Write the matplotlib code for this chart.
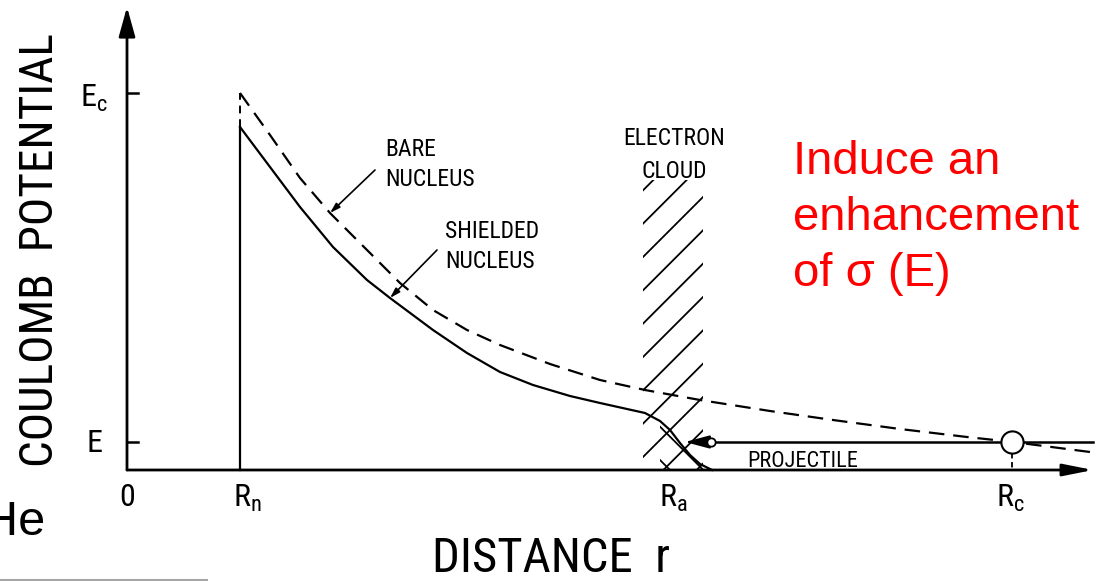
import matplotlib
matplotlib.use("Agg")
import matplotlib.pyplot as plt
from matplotlib import font_manager as fm
from matplotlib.patches import Rectangle

# schematic values (units ~ pixels of the original drawing, origin at the axes corner)
R_n = 113
R_a = 545
R_c = 885
E_c = 377
E = 28
cloud_left, cloud_right, cloud_top = 516, 576, 290

# bare nucleus (dashed) potential
r_bare = [113, 143, 173, 203, 240, 273, 306, 340, 373, 423, 473, 518, 573, 643, 706, 773, 840, 886, 963]
v_bare = [377, 335, 292, 257, 220, 187, 160, 140, 125, 106, 90, 80, 70, 59, 50, 41, 33, 28, 18]

# shielded nucleus (solid) potential
r_shield = [113, 143, 173, 206, 240, 263, 306, 340, 373, 406, 443, 473, 518, 533, 543, 553, 563, 573, 585]
v_shield = [343, 303, 263, 223, 190, 172, 140, 117, 98, 85, 74, 67, 57, 49, 40, 27, 15, 6, 0]


def pick_narrow_font():
    # technical lettering of the drawing is narrow, use whatever condensed face exists
    entries = fm.fontManager.ttflist
    for name, stretch in [('Liberation Sans Narrow', None), ('Roboto Condensed', None),
                          ('Open Sans Condensed', None), ('DejaVu Sans', 'condensed'),
                          ('Noto Sans', 'condensed'), ('Open Sans', 'condensed')]:
        for f in entries:
            if f.name == name and (stretch is None or f.stretch == stretch):
                return dict(family=name, stretch=stretch or 'normal')
    return dict(family='Liberation Sans', stretch='normal')


tech = pick_narrow_font()
plt.rcParams['font.family'] = [tech['family'], 'DejaVu Sans']
plt.rcParams['font.stretch'] = tech['stretch']
plt.rcParams['hatch.linewidth'] = 1.3

fig = plt.figure(figsize=(10.97, 5.81), dpi=100)
ax = fig.add_axes([0, 0, 1, 1])
ax.set_xlim(-127, 970)
ax.set_ylim(-111, 470)
ax.axis('off')

# electron cloud
ax.add_patch(Rectangle((cloud_left, 0), cloud_right - cloud_left, cloud_top,
                       fill=False, hatch='/', lw=0, edgecolor='k', zorder=1))
i0 = r_shield.index(533)
ax.fill_between(r_shield[i0:], 0, v_shield[i0:], facecolor='none', hatch='\\',
                edgecolor='k', lw=0, zorder=1)

# axes with arrows
ax.annotate('', xy=(0, 463), xytext=(0, 0),
            arrowprops=dict(arrowstyle='-|>,head_length=0.9,head_width=0.25', lw=2.0,
                            color='k', mutation_scale=20, shrinkA=0, shrinkB=0))
ax.annotate('', xy=(966, 0), xytext=(0, 0),
            arrowprops=dict(arrowstyle='-|>,head_length=0.9,head_width=0.18', lw=2.0,
                            color='k', mutation_scale=20, shrinkA=0, shrinkB=0))
ax.plot([0, 11], [E_c, E_c], color='k', lw=1.8)
ax.plot([0, 11], [E, E], color='k', lw=1.8)

# potentials
ax.plot(r_bare, v_bare, color='k', lw=1.6, linestyle=(0, (7, 4)), zorder=3)
ax.plot(r_shield, v_shield, color='k', lw=1.6, zorder=3)
ax.plot([R_n, R_n], [0, v_shield[0]], color='k', lw=1.6)
ax.plot([R_n, R_n], [v_shield[0], E_c], color='k', lw=1.4, linestyle=(0, (4, 3)))

# projectile
ax.plot([584, 966], [E, E], color='k', lw=1.8, zorder=3)
ax.annotate('', xy=(558, E), xytext=(582, E),
            arrowprops=dict(arrowstyle='-|>,head_length=0.75,head_width=0.2', lw=1.5,
                            color='k', mutation_scale=20, shrinkA=0, shrinkB=0), zorder=4)
ax.plot([584], [E], marker='o', ms=6, mfc='white', mec='k', mew=1.3, zorder=5)
ax.plot([R_c], [E], marker='o', ms=16, mfc='white', mec='k', mew=1.5, zorder=5)
ax.plot([R_c, R_c], [E - 11, 0], color='k', lw=1.3, linestyle=(0, (3, 2)))

# leaders
ax.annotate('', xy=(r_bare[3], v_bare[3]), xytext=(248, 300),
            arrowprops=dict(arrowstyle='-|>,head_length=0.5,head_width=0.15', lw=1.2,
                            color='k', mutation_scale=12, shrinkA=0, shrinkB=0))
ax.annotate('', xy=(r_shield[5], v_shield[5]), xytext=(310, 220),
            arrowprops=dict(arrowstyle='-|>,head_length=0.5,head_width=0.15', lw=1.2,
                            color='k', mutation_scale=12, shrinkA=0, shrinkB=0))

# labels, each with the width it has in the drawing
labels = []
labels.append((ax.text(258, 332, 'BARE\nNUCLEUS', fontsize=17, va='top', ha='left',
                       linespacing=1.4), 92))
labels.append((ax.text(318, 250, 'SHIELDED\nNUCLEUS', fontsize=17, va='top', ha='left',
                       linespacing=1.4), 102))
labels.append((ax.text(547, 343, 'ELECTRON\nCLOUD', fontsize=17, va='top', ha='center',
                       multialignment='center', linespacing=1.55), 105))
labels.append((ax.text(620, 3, 'PROJECTILE', fontsize=16, va='baseline', ha='left'), 115))
labels.append((ax.text(424, -102, 'DISTANCE  r', fontsize=37, ha='center',
                       va='baseline'), 238))
labels.append((ax.text(-74, 220, 'COULOMB  POTENTIAL', fontsize=34, rotation=90,
                       rotation_mode='anchor', ha='center', va='baseline'), 436))

ax.text(-19, E_c - 14, r'E$_\mathregular{c}$', fontsize=23, ha='right', va='baseline')
ax.text(-24, E - 10, 'E', fontsize=23, ha='right', va='baseline')
ax.text(0, -13, '0', fontsize=23, ha='center', va='top')
ax.text(R_n + 7, -13, r'R$_\mathregular{n}$', fontsize=23, ha='center', va='top')
ax.text(R_a + 1, -13, r'R$_\mathregular{a}$', fontsize=23, ha='center', va='top')
ax.text(R_c - 2, -13, r'R$_\mathregular{c}$', fontsize=23, ha='center', va='top')

ax.text(666, 330, 'Induce an\nenhancement\nof σ (E)', fontsize=34, color='#ff0000',
        family='Liberation Sans', stretch='normal', ha='left', va='top', linespacing=1.35)

# slide leftovers (the "He" is cut by the left edge in the source too)
ax.text(-144, -65, 'He', fontsize=35, family='Liberation Sans', stretch='normal',
        ha='left', va='baseline')
ax.plot([-127, 80], [-110, -110], color='#a6a6a6', lw=1.5, clip_on=False)

# shrink any label that comes out wider than in the drawing
fig.canvas.draw()
renderer = fig.canvas.get_renderer()
for t, width in labels:
    bb = t.get_window_extent(renderer)
    w = bb.height if t.get_rotation() == 90 else bb.width
    if w > width:
        t.set_fontsize(t.get_fontsize() * width / w)

fig.savefig('out.png', dpi=100)
